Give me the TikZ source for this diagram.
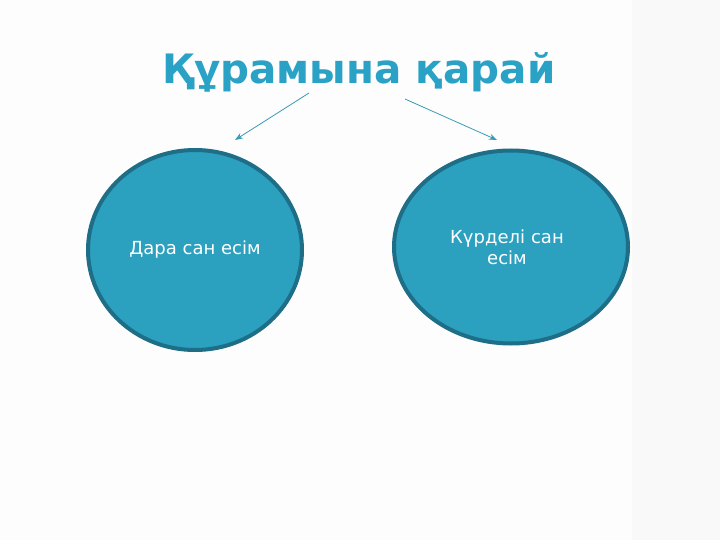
\documentclass[tikz,border=0pt]{standalone}
\usepackage{fontspec}
\setmainfont{DejaVu Sans}
\usetikzlibrary{shapes.geometric,arrows.meta}
\definecolor{titleblue}{HTML}{2AA2C6}
\definecolor{ellfill}{HTML}{2CA0BF}
\definecolor{elldraw}{HTML}{1E6E88}
\definecolor{arrowcol}{HTML}{3A9AB6}
\definecolor{bgmain}{HTML}{FDFDFD}
\definecolor{bgstrip}{HTML}{F9F9F9}
\tikzset{
  ellnode/.style={ellipse, fill=ellfill, draw=elldraw, line width=4pt, inner sep=0pt,
    text=white, font=\fontsize{18}{21}\selectfont, align=center},
  conn/.style={draw=arrowcol, line width=0.8pt, -{Stealth[length=8pt,width=6pt]}}
}
\begin{document}
\begin{tikzpicture}[x=1pt,y=-1pt]
\useasboundingbox (0,0) rectangle (720,540);
\fill[bgmain] (0,0) rectangle (632,540);
\fill[bgstrip] (632,0) rectangle (720,540);
\node[anchor=base, text=titleblue, font=\fontsize{40.5}{45}\bfseries\selectfont, inner sep=0pt] (title) at (359,84) {Құрамына қарай};
\node[ellnode, minimum width=214pt, minimum height=200pt] (left) at (195,250) {Дара сан есім};
\node[ellnode, minimum width=234pt, minimum height=193pt, text width=130pt] (right) at (511,247) {\hspace*{-8pt}Күрделі сан\\\hspace*{-8pt}есім};
\coordinate (ls) at (309,93);
\coordinate (le) at (235,140);
\coordinate (rs) at (405,99);
\coordinate (re) at (497,140);
\draw[conn] (ls) -- (le);
\draw[conn] (rs) -- (re);
\end{tikzpicture}
\end{document}
